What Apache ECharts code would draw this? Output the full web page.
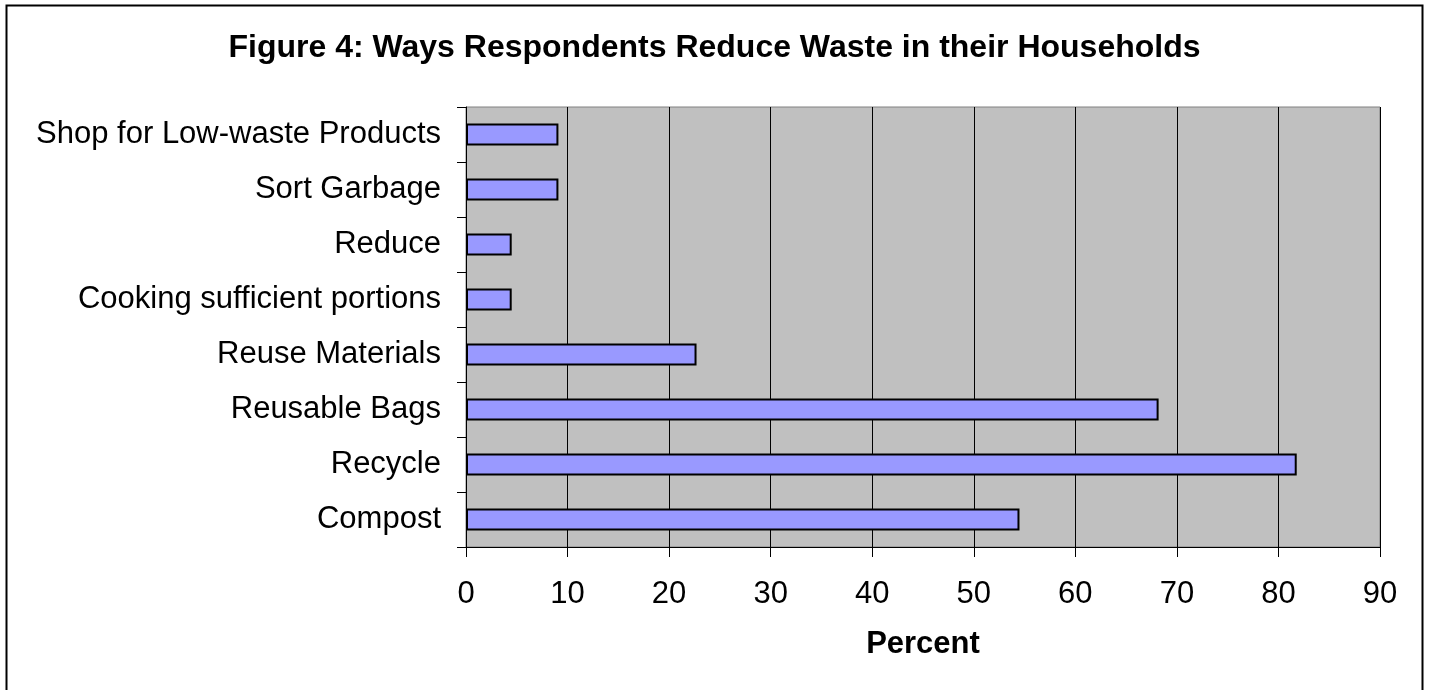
<!DOCTYPE html>
<html>
<head>
<meta charset="utf-8">
<script src="https://cdn.jsdelivr.net/npm/echarts@6/dist/echarts.min.js"></script>
<style>
html,body{margin:0;padding:0;background:#fff;}
#c{width:1429px;height:690px;}
</style>
</head>
<body>
<div id="c"></div>
<script>
const categories = ["Shop for Low-waste Products","Sort Garbage","Reduce","Cooking sufficient portions","Reuse Materials","Reusable Bags","Recycle","Compost"];
const percentValues = [9.1, 9.1, 4.5, 4.5, 22.7, 68.2, 81.8, 54.5];
const xTicks = [0,10,20,30,40,50,60,70,80,90];

const chart = echarts.init(document.getElementById('c'), null, {renderer:'canvas'});
const font = 'Arial, "Liberation Sans", sans-serif';
chart.setOption({
  animation:false,
  backgroundColor:'#fff',
  title:{
    text:'Figure 4: Ways Respondents Reduce Waste in their Households',
    left:'center', top:27,
    textStyle:{fontFamily:font,fontWeight:'bold',fontSize:32,color:'#000'}
  },
  graphic:[{
    type:'rect', silent:true,
    shape:{x:6.5,y:5.5,width:1416,height:700},
    style:{fill:'none',stroke:'#000',lineWidth:2}
  }],
  grid:{left:466,right:49,top:107,bottom:143,show:true,backgroundColor:'#C0C0C0',borderColor:'#808080',borderWidth:1,containLabel:false},
  xAxis:{
    type:'value',min:0,max:90,interval:10,
    name:'Percent',nameLocation:'middle',nameGap:82,
    nameTextStyle:{fontFamily:font,fontWeight:'bold',fontSize:31,color:'#000'},
    axisLine:{show:true,lineStyle:{color:'#000',width:1}},
    axisTick:{show:true,length:10,lineStyle:{color:'#000'}},
    axisLabel:{fontFamily:font,fontSize:31,color:'#000',margin:32,
      formatter:function(v){return xTicks.indexOf(v)>=0?String(v):'';}},
    splitLine:{show:true,lineStyle:{color:'#000',width:1}}
  },
  yAxis:{
    type:'category',data:categories,inverse:true,
    axisLine:{show:true,lineStyle:{color:'#000',width:1}},
    axisTick:{show:true,length:9,lineStyle:{color:'#000'}},
    axisLabel:{fontFamily:font,fontSize:31,color:'#000',margin:25},
    splitLine:{show:false}
  },
  series:[{
    type:'bar',data:percentValues,barWidth:22,
    itemStyle:{color:'#9999FF',borderColor:'#000',borderWidth:2}
  }]
});
</script>
</body>
</html>
